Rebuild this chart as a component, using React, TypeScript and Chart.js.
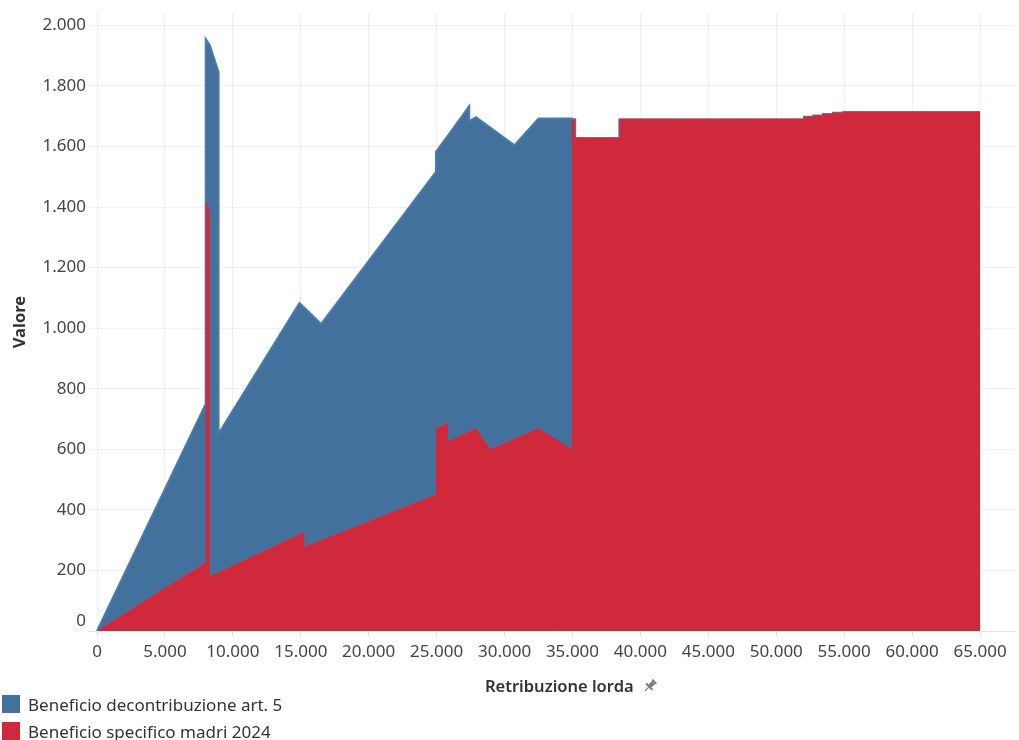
import React, { useEffect, useRef } from 'react';
import { Chart, registerables } from 'chart.js';

Chart.register(...registerables);

// Retribuzione lorda (x) – shared breakpoints for both series
const retribuzione = [
  0, 8000, 8000, 8300, 8300, 8950, 8950, 14900, 15250, 15250, 16500, 24950, 24950,
  25830, 25830, 27400, 27400, 27900, 28950, 30730, 32500, 34950, 34950, 35200, 35200,
  38450, 38450, 52040, 52040, 52730, 52730, 53440, 53440, 54180, 54180, 54930, 54930, 65000,
];

// Beneficio specifico madri 2024 (bottom of the stack)
const madri = [
  0, 225, 1420, 1385, 180, 193, 193, 319, 326, 277, 299, 450, 668,
  687, 625, 658, 658, 669, 599, 634, 669, 599, 1690, 1690, 1628,
  1628, 1690, 1691, 1698, 1698, 1702, 1702, 1707, 1707, 1711, 1711, 1714, 1714,
];

// Beneficio decontribuzione art. 5 (stacked on top)
const decontribuzione = [
  0, 525, 535, 550, 1755, 1652, 459, 764, 742, 791, 715, 1066, 914,
  949, 1011, 1075, 1026, 1028, 1063, 970, 1023, 1093, 0, 0, 0,
  0, 0, 0, 0, 0, 0, 0, 0, 0, 0, 0, 0, 0,
];

const seriesLabels = ['Beneficio decontribuzione art. 5', 'Beneficio specifico madri 2024'];
const yTicks = [0, 200, 400, 600, 800, 1000, 1200, 1400, 1600, 1800, 2000];
const xTicks = [0, 5000, 10000, 15000, 20000, 25000, 30000, 35000, 40000, 45000, 50000, 55000, 60000, 65000];

const BLUE = '#42719e';
const RED = '#d1293c';
const FONT = '"Noto Sans", "DejaVu Sans", sans-serif';

const fmt = (v: number) => String(Math.round(v)).replace(/\B(?=(\d{3})+(?!\d))/g, '.');

export default function App() {
  const ref = useRef<HTMLCanvasElement | null>(null);

  useEffect(() => {
    document.body.style.margin = '0';
    const canvas = ref.current;
    if (!canvas) return;
    const topData = retribuzione.map((x, i) => ({ x, y: madri[i] + decontribuzione[i] }));
    const redData = retribuzione.map((x, i) => ({ x, y: madri[i] }));

    const chart = new Chart(canvas, {
      type: 'line',
      data: {
        datasets: [
          {
            label: seriesLabels[0],
            data: topData,
            backgroundColor: BLUE,
            borderColor: '#4f79a6',
            borderWidth: 2,
            fill: 'origin',
            pointRadius: 0,
            tension: 0,
            order: 2,
          },
          {
            label: seriesLabels[1],
            data: redData,
            backgroundColor: RED,
            borderColor: RED,
            borderWidth: 0,
            fill: 'origin',
            pointRadius: 0,
            tension: 0,
            order: 1,
          },
        ],
      },
      options: {
        responsive: false,
        animation: false,
        layout: { padding: { top: 0, right: 4, left: 0, bottom: 0 } },
        plugins: {
          legend: { display: false },
          tooltip: { enabled: false },
        },
        scales: {
          x: {
            type: 'linear',
            min: -590,
            max: 67575,
            afterFit: (s: any) => {
              s.height = 69;
            },
            afterBuildTicks: (s: any) => {
              s.ticks = xTicks.map((v) => ({ value: v }));
            },
            ticks: {
              includeBounds: false,
              callback: (v: any) => fmt(Number(v)),
              color: '#444',
              font: { family: FONT, size: 17, lineHeight: 1.2 },
              padding: 6,
              maxRotation: 0,
              autoSkip: false,
            },
            grid: { color: '#efefef', tickLength: 5, tickColor: '#dcdcdc', lineWidth: 1 },
            border: { display: true, color: '#e4e4e4' },
            title: { display: false },
          },
          y: {
            type: 'linear',
            min: 0,
            max: 2040,
            afterFit: (s: any) => {
              s.width = 89;
            },
            afterBuildTicks: (s: any) => {
              s.ticks = yTicks.map((v) => ({ value: v }));
            },
            ticks: {
              includeBounds: false,
              // the bottom label sits just above the axis line, as in the original
              callback: (v: any) => (Number(v) === 0 ? ['0', ''] : fmt(Number(v))),
              color: '#444',
              font: { family: FONT, size: 17, lineHeight: 1.2 },
              padding: 3,
            },
            grid: { color: '#efefef', drawTicks: false, lineWidth: 1 },
            border: { display: false },
            title: {
              display: true,
              text: 'Valore',
              color: '#333',
              font: { family: FONT, size: 16.5, weight: 'bold' },
              padding: { top: 10, bottom: 0 },
            },
          },
        },
      },
    });
    return () => chart.destroy();
  }, []);

  return (
    <div
      style={{
        position: 'relative',
        width: 1019,
        height: 740,
        overflow: 'hidden',
        fontFamily: FONT,
        background: '#fff',
      }}
    >
      <canvas ref={ref} width={1019} height={700} style={{ position: 'absolute', left: 0, top: 0 }} />
      <div
        style={{
          position: 'absolute',
          left: 485,
          top: 674,
          fontSize: 16.5,
          fontWeight: 600,
          color: '#333',
          whiteSpace: 'nowrap',
          display: 'flex',
          alignItems: 'center',
          lineHeight: '24px',
        }}
      >
        <span>Retribuzione lorda</span>
        <svg width="16" height="16" viewBox="0 0 16 16" style={{ marginLeft: 8 }}>
          <g transform="rotate(45 8 8)" fill="#7a7a7a">
            <rect x="5" y="1" width="6" height="2" />
            <rect x="6" y="3" width="4" height="5" />
            <rect x="3.5" y="8" width="9" height="2" />
            <rect x="7.4" y="10" width="1.2" height="5" />
          </g>
        </svg>
      </div>
      {seriesLabels.map((lab, i) => (
        <div
          key={lab}
          style={{
            position: 'absolute',
            left: 2,
            top: 695 + i * 27,
            display: 'flex',
            alignItems: 'center',
            height: 18,
            whiteSpace: 'nowrap',
          }}
        >
          <span style={{ width: 18, height: 18, background: i === 0 ? BLUE : RED, display: 'inline-block' }} />
          <span style={{ marginLeft: 8, fontSize: 17, color: '#333' }}>{lab}</span>
        </div>
      ))}
    </div>
  );
}
